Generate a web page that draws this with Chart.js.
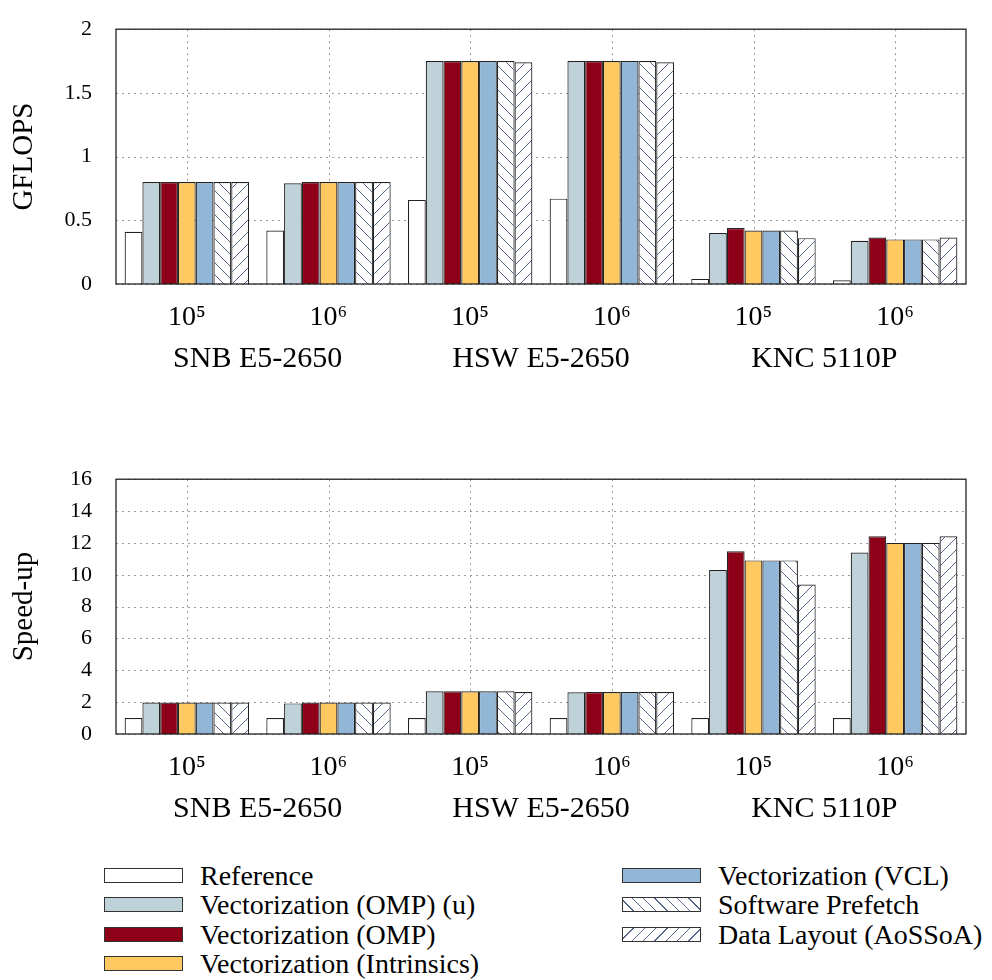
<!DOCTYPE html>
<html>
<head>
<meta charset="utf-8">
<script src="https://cdn.jsdelivr.net/npm/chart.js@4"></script>
<style>
  body { margin: 0; background: #fff; font-family: "Liberation Serif", serif; }
  .box { position: absolute; left: 0; width: 992px; height: 390px; }
  .legend-item { position: absolute; height: 29px; line-height: 29px; font-size: 28px; color: #000; white-space: nowrap; }
  .legend-item span.sw { position: absolute; top: 7px; width: 77px; height: 13px; border: 1.3px solid #333; }
  .legend-item span.tx { position: absolute; }
</style>
</head>
<body>
<div class="box" style="top:0"><canvas id="gflopsChart"></canvas></div>
<div class="box" style="top:450px"><canvas id="speedupChart"></canvas></div>
<div id="legend"></div>
<script>
const categories = ["10\u2075", "10\u2076", "10\u2075", "10\u2076", "10\u2075", "10\u2076"];
const groups = ["SNB E5-2650", "HSW E5-2650", "KNC 5110P"];
const seriesNames = [
  "Reference",
  "Vectorization (OMP) (u)",
  "Vectorization (OMP)",
  "Vectorization (Intrinsics)",
  "Vectorization (VCL)",
  "Software Prefetch",
  "Data Layout (AoSSoA)"
];

// GFLOPS per series
const gflopsReference  = [0.41, 0.42, 0.66, 0.67, 0.04, 0.03];
const gflopsOmpU       = [0.80, 0.79, 1.75, 1.75, 0.40, 0.34];
const gflopsOmp        = [0.80, 0.80, 1.75, 1.75, 0.44, 0.365];
const gflopsIntrinsics = [0.80, 0.80, 1.75, 1.75, 0.42, 0.35];
const gflopsVcl        = [0.80, 0.80, 1.75, 1.75, 0.42, 0.35];
const gflopsPrefetch   = [0.80, 0.80, 1.75, 1.75, 0.42, 0.35];
const gflopsLayout     = [0.80, 0.80, 1.74, 1.74, 0.36, 0.365];

// speed-up per series
const speedupReference  = [1, 1, 1, 1, 1, 1];
const speedupOmpU       = [1.98, 1.92, 2.68, 2.62, 10.3, 11.4];
const speedupOmp        = [1.98, 1.98, 2.68, 2.64, 11.47, 12.42];
const speedupIntrinsics = [1.98, 1.98, 2.68, 2.64, 10.9, 12.0];
const speedupVcl        = [1.98, 1.98, 2.68, 2.64, 10.9, 12.0];
const speedupPrefetch   = [1.98, 1.98, 2.68, 2.64, 10.9, 12.0];
const speedupLayout     = [1.98, 1.98, 2.64, 2.64, 9.39, 12.42];

const gflopsTicks = [0, 0.5, 1, 1.5, 2];
const speedupTicks = [0, 2, 4, 6, 8, 10, 12, 14, 16];

const hatchColor = "#56658a";
const gridColor = "#9a9a9a";

function hatch(dir) {
  const s = 12;
  const c = document.createElement("canvas");
  c.width = s; c.height = s;
  const g = c.getContext("2d");
  g.fillStyle = "#fff";
  g.fillRect(0, 0, s, s);
  g.strokeStyle = hatchColor;
  g.lineWidth = 1;
  g.beginPath();
  for (const k of [-s, 0, s]) {
    if (dir === "back") { g.moveTo(k, 0); g.lineTo(k + s, s); }
    else { g.moveTo(k + s, 0); g.lineTo(k, s); }
  }
  g.stroke();
  return g.createPattern(c, "repeat");
}

const fills = ["#ffffff", "#bfd1d9", "#8e0018", "#ffc961", "#91b6d6", hatch("back"), hatch("fwd")];
const cssFills = [
  "#ffffff", "#bfd1d9", "#8e0018", "#ffc961", "#91b6d6",
  "repeating-linear-gradient(45deg, #fff 0 7px, " + hatchColor + " 7px 8px)",
  "repeating-linear-gradient(135deg, #fff 0 7px, " + hatchColor + " 7px 8px)"
];

// dotted grid at the tick positions plus a full box round the plot area
const framePlugin = {
  id: "frame",
  beforeDatasetsDraw(chart) {
    const a = chart.chartArea;
    const ctx = chart.ctx;
    ctx.save();
    ctx.strokeStyle = gridColor;
    ctx.lineWidth = 1;
    ctx.setLineDash([2, 4]);
    ctx.beginPath();
    chart.scales.y.ticks.forEach(t => {
      const y = Math.round(chart.scales.y.getPixelForValue(t.value)) + 0.5;
      ctx.moveTo(a.left, y); ctx.lineTo(a.right, y);
    });
    categories.forEach((c, i) => {
      const x = Math.round(chart.scales.x.getPixelForValue(i)) + 0.5;
      ctx.moveTo(x, a.top); ctx.lineTo(x, a.bottom);
    });
    ctx.stroke();
    ctx.restore();
  },
  afterDraw(chart) {
    const a = chart.chartArea;
    const ctx = chart.ctx;
    ctx.save();
    ctx.strokeStyle = "#222";
    ctx.lineWidth = 1.3;
    ctx.strokeRect(a.left, a.top, a.right - a.left, a.bottom - a.top);
    ctx.restore();
  }
};

function makeChart(id, title, series, ticks) {
  const datasets = series.map((values, i) => ({
    label: seriesNames[i],
    data: values,
    backgroundColor: fills[i],
    borderColor: "#222",
    borderWidth: 1.2,
    categoryPercentage: 0.878,
    barPercentage: 1
  }));
  const fontFamily = "'Liberation Serif', serif";
  return new Chart(document.getElementById(id), {
    type: "bar",
    data: { labels: categories, datasets: datasets },
    plugins: [framePlugin],
    options: {
      responsive: true,
      maintainAspectRatio: false,
      animation: false,
      layout: { padding: { top: 19, right: 26, left: 0, bottom: 0 } },
      plugins: { legend: { display: false }, tooltip: { enabled: false } },
      scales: {
        x: {
          weight: 0,
          grid: { display: false },
          border: { display: false },
          ticks: { color: "#000", font: { family: fontFamily, size: 28 }, padding: 9 },
          afterFit(s) { s.height = 44; }
        },
        x2: {
          type: "category",
          labels: groups,
          position: "bottom",
          weight: 1,
          grid: { display: false },
          border: { display: false },
          ticks: { color: "#000", font: { family: fontFamily, size: 30 }, padding: 5 },
          afterFit(s) { s.height = 62; }
        },
        y: {
          min: ticks[0],
          max: ticks[ticks.length - 1],
          afterBuildTicks(s) { s.ticks = ticks.map(v => ({ value: v })); },
          grid: { display: false },
          border: { display: false },
          ticks: {
            color: "#000",
            font: { family: fontFamily, size: 22 },
            padding: 16,
            callback: v => String(v)
          },
          title: { display: true, text: title, color: "#000", font: { family: fontFamily, size: 29 }, padding: { top: 7 } },
          afterFit(s) { s.width = 116; }
        }
      }
    }
  });
}

makeChart("gflopsChart", "GFLOPS",
  [gflopsReference, gflopsOmpU, gflopsOmp, gflopsIntrinsics, gflopsVcl, gflopsPrefetch, gflopsLayout],
  gflopsTicks);
makeChart("speedupChart", "Speed-up",
  [speedupReference, speedupOmpU, speedupOmp, speedupIntrinsics, speedupVcl, speedupPrefetch, speedupLayout],
  speedupTicks);

// legend: two columns, filled top-down
const legendEl = document.getElementById("legend");
seriesNames.forEach((name, i) => {
  const col = i < 4 ? 0 : 1;
  const row = i < 4 ? i : i - 4;
  const item = document.createElement("div");
  item.className = "legend-item";
  item.style.top = (861 + row * 29.3) + "px";
  item.style.left = (col === 0 ? 104 : 622) + "px";
  const sw = document.createElement("span");
  sw.className = "sw";
  sw.style.left = "0px";
  sw.style.background = cssFills[i];
  const tx = document.createElement("span");
  tx.className = "tx";
  tx.style.left = "96px";
  tx.textContent = name;
  item.appendChild(sw);
  item.appendChild(tx);
  legendEl.appendChild(item);
});
</script>
</body>
</html>
